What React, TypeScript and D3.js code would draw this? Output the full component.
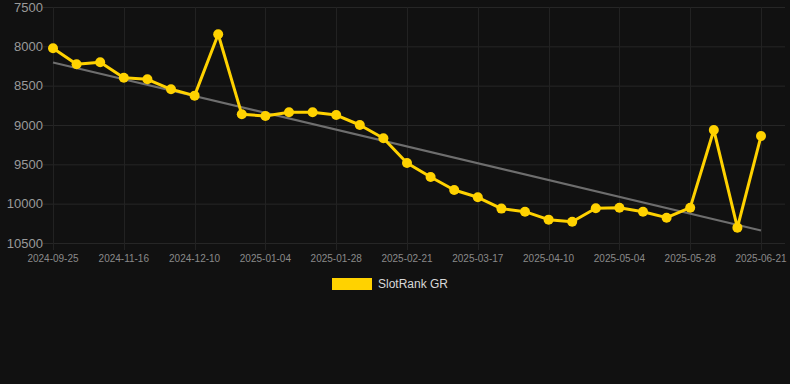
import React, { useEffect, useRef } from 'react';
import * as d3 from 'd3';

const dates = [
  '2024-09-25', '2024-10-17', '2024-11-08', '2024-11-16', '2024-11-24', '2024-12-02',
  '2024-12-10', '2024-12-18', '2024-12-26', '2025-01-04', '2025-01-12', '2025-01-20',
  '2025-01-28', '2025-02-05', '2025-02-13', '2025-02-21', '2025-03-01', '2025-03-09',
  '2025-03-17', '2025-03-25', '2025-04-02', '2025-04-10', '2025-04-18', '2025-04-26',
  '2025-05-04', '2025-05-12', '2025-05-20', '2025-05-28', '2025-06-05', '2025-06-13',
  '2025-06-21',
];

const ranks = [
  8025, 8228, 8203, 8399, 8419, 8546, 8627, 7847, 8864, 8885, 8838,
  8838, 8873, 9000, 9169, 9483, 9661, 9826, 9919, 10063, 10102, 10203,
  10229, 10059, 10051, 10102, 10178, 10051, 9063, 10305, 9140,
];

// trend line start / end values
const trend = [8205, 10340];

const yTicks = [7500, 8000, 8500, 9000, 9500, 10000, 10500];

const W = 790;
const H = 384;
const LINE = '#ffd200';

export default function App() {
  const ref = useRef<SVGSVGElement>(null);

  useEffect(() => {
    const svg = d3.select(ref.current);
    svg.selectAll('*').remove();

    const left = 53;
    const right = 761;
    const top = 7;
    const bottom = 243;

    const x = d3.scalePoint<string>().domain(dates).range([left, right]);
    const y = d3.scaleLinear().domain([7500, 10500]).range([top, bottom]);

    svg.append('rect').attr('width', W).attr('height', H).attr('fill', '#111111');

    // horizontal grid
    svg
      .append('g')
      .selectAll('line')
      .data(yTicks)
      .enter()
      .append('line')
      .attr('x1', 43)
      .attr('x2', 785)
      .attr('y1', d => y(d) + 0.5)
      .attr('y2', d => y(d) + 0.5)
      .attr('stroke', '#262626')
      .attr('stroke-width', 1);

    const shown = dates.filter((_, i) => i % 3 === 0);

    // vertical grid
    svg
      .append('g')
      .selectAll('line')
      .data(shown)
      .enter()
      .append('line')
      .attr('x1', d => Math.round(x(d)!) + 0.5)
      .attr('x2', d => Math.round(x(d)!) + 0.5)
      .attr('y1', top)
      .attr('y2', bottom + 7)
      .attr('stroke', '#222222')
      .attr('stroke-width', 1);

    // y labels
    svg
      .append('g')
      .selectAll('text')
      .data(yTicks)
      .enter()
      .append('text')
      .attr('x', 43)
      .attr('y', d => y(d))
      .attr('dy', '0.35em')
      .attr('text-anchor', 'end')
      .attr('font-family', 'Arial, "Liberation Sans", sans-serif')
      .attr('font-size', 13)
      .attr('fill', '#9a9a9a')
      .text(d => String(d));

    // x labels
    svg
      .append('g')
      .selectAll('text')
      .data(shown)
      .enter()
      .append('text')
      .attr('x', d => x(d)!)
      .attr('y', 262)
      .attr('text-anchor', 'middle')
      .attr('font-family', 'Arial, "Liberation Sans", sans-serif')
      .attr('font-size', 10)
      .attr('fill', '#8a8a8a')
      .text(d => d);

    // trend line
    svg
      .append('line')
      .attr('x1', x(dates[0])!)
      .attr('x2', x(dates[dates.length - 1])!)
      .attr('y1', y(trend[0]))
      .attr('y2', y(trend[1]))
      .attr('stroke', '#6e6e6e')
      .attr('stroke-width', 2);

    const line = d3
      .line<number>()
      .x((_, i) => x(dates[i])!)
      .y(d => y(d));

    svg
      .append('path')
      .datum(ranks)
      .attr('d', line)
      .attr('fill', 'none')
      .attr('stroke', LINE)
      .attr('stroke-width', 3)
      .attr('stroke-linejoin', 'round');

    svg
      .append('g')
      .selectAll('circle')
      .data(ranks)
      .enter()
      .append('circle')
      .attr('cx', (_, i) => x(dates[i])!)
      .attr('cy', d => y(d))
      .attr('r', 5)
      .attr('fill', LINE);

    // legend
    const legend = svg.append('g');
    legend
      .append('rect')
      .attr('x', 332)
      .attr('y', 278)
      .attr('width', 40)
      .attr('height', 12)
      .attr('fill', LINE);
    legend
      .append('text')
      .attr('x', 378)
      .attr('y', 288)
      .attr('font-family', 'Arial, "Liberation Sans", sans-serif')
      .attr('font-size', 12)
      .attr('fill', '#d8d8d8')
      .text('SlotRank GR');
  }, []);

  return (
    <svg
      ref={ref}
      width={W}
      height={H}
      style={{ position: 'absolute', left: 0, top: 0, display: 'block' }}
    />
  );
}
